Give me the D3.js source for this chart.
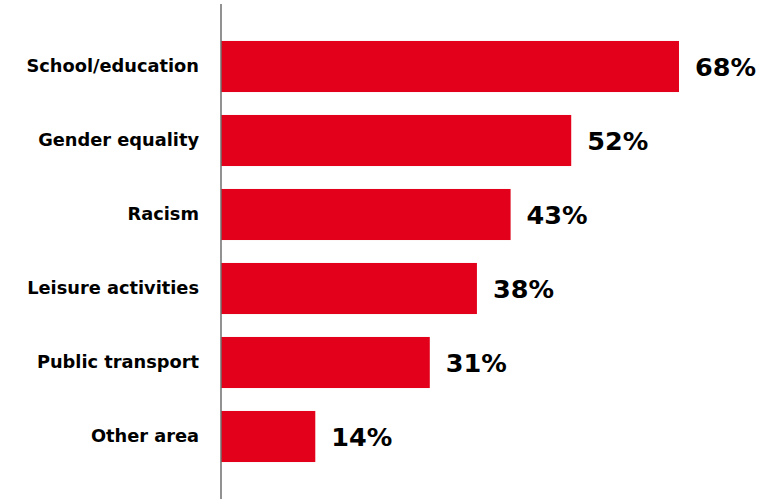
<!DOCTYPE html>
<html>
<head>
<meta charset="utf-8">
<script src="https://cdn.jsdelivr.net/npm/d3@7"></script>
<style>
  html, body { margin: 0; padding: 0; background: #fff; }
  svg { display: block; }
  text { font-family: "DejaVu Sans", sans-serif; font-weight: 700; fill: #000; }
</style>
</head>
<body>
<svg id="chart" width="769" height="499"></svg>
<script>
// Areas and the share of respondents naming each one (%)
const categories = ["School/education", "Gender equality", "Racism", "Leisure activities", "Public transport", "Other area"];
const values = [68, 52, 43, 38, 31, 14];
const valueLabels = ["68%", "52%", "43%", "38%", "31%", "14%"];

const svg = d3.select("#chart");
const axisX = 221;

const x = d3.scaleLinear().domain([0, 100]).range([axisX, axisX + 673.5]);
const y = d3.scaleBand()
  .domain(categories)
  .range([29.5, 473.5])
  .paddingInner(0.31)
  .paddingOuter(0.155);

// Bars
svg.append("g").selectAll("rect")
  .data(categories)
  .join("rect")
  .attr("x", x(0))
  .attr("y", d => y(d))
  .attr("width", (d, i) => x(values[i]) - x(0))
  .attr("height", y.bandwidth())
  .attr("fill", "#e2001a");

// Category axis (no ticks, plain vertical rule)
const axis = d3.axisLeft(y).tickSize(0).tickPadding(22);
const gAxis = svg.append("g").attr("transform", `translate(${axisX},0)`).call(axis);
gAxis.select(".domain").remove();
gAxis.selectAll("text")
  .style("font-family", "'DejaVu Sans', sans-serif")
  .style("font-weight", "700")
  .style("font-size", "17.8px")
  .attr("fill", "#000");

svg.append("line")
  .attr("x1", axisX).attr("x2", axisX)
  .attr("y1", 4).attr("y2", 499)
  .attr("stroke", "#6e6e6e")
  .attr("stroke-width", 1.5);

// Value labels at the end of each bar
svg.append("g").selectAll("text")
  .data(categories)
  .join("text")
  .attr("x", (d, i) => x(values[i]) + 16)
  .attr("y", d => y(d) + y.bandwidth() / 2)
  .attr("dy", "0.37em")
  .style("font-size", "25.5px")
  .style("font-weight", "700")
  .text((d, i) => valueLabels[i]);
</script>
</body>
</html>
